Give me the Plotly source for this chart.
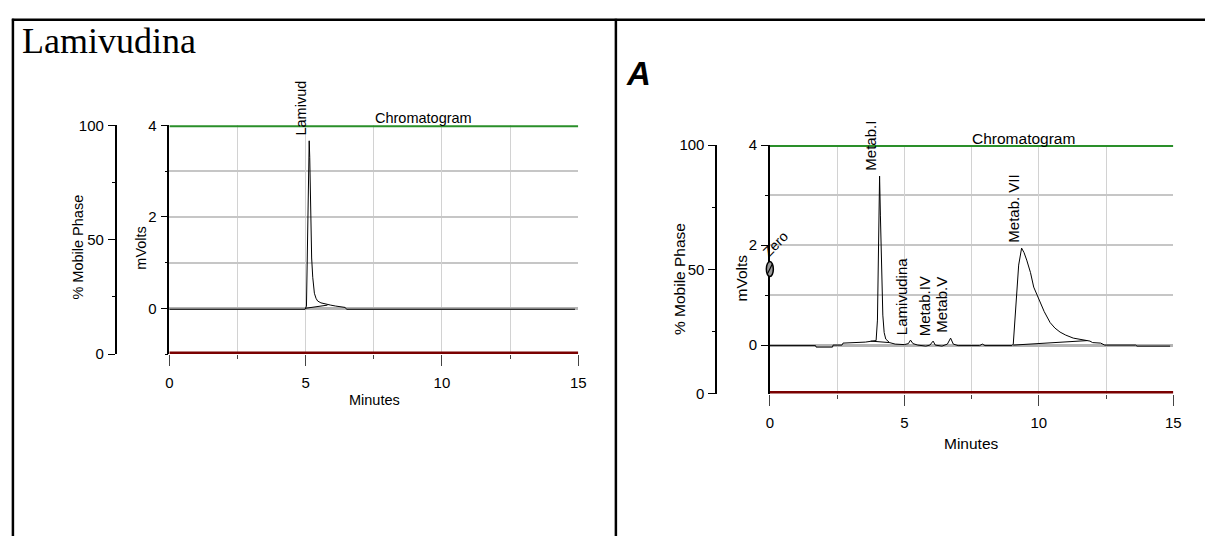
import plotly.graph_objects as go

W, H = 1213, 544

# ---------------- data ----------------
# Left panel: Lamivudina standard
left_time = [0, 4.98, 5.03, 5.06, 5.09, 5.11, 5.13, 5.15, 5.17, 5.19, 5.22, 5.26, 5.32,
             5.38, 5.44, 5.56, 5.68, 5.8, 5.92, 6.1, 6.3, 6.45, 6.5, 14.88]
left_mv = [-0.02, -0.02, 0.05, 1.0, 2.4, 3.3, 3.66, 3.3, 2.5, 1.74, 1.1, 0.68, 0.33,
           0.22, 0.16, 0.12, 0.10, 0.08, 0.07, 0.05, 0.03, 0.02, -0.02, -0.02]
left_base_time = [4.98, 5.8]
left_base_mv = [0.0, 0.07]
left_peak_names = ["Lamivud"]
left_peak_time = [5.13]
left_peak_mv = [3.66]

# Right panel: sample A
right_time = [0, 1.7, 1.72, 2.33, 2.35, 2.68, 2.72, 3.2, 3.55, 3.8, 3.95, 4.0, 4.04, 4.08,
              4.11, 4.15, 4.2, 4.25, 4.31, 4.45, 4.66, 5.0, 5.15, 5.23, 5.32, 5.5, 5.8,
              5.95, 6.07, 6.15, 6.4, 6.6, 6.72, 6.82, 7.0, 7.8, 7.9, 8.0, 9.0, 9.05,
              9.15, 9.25, 9.36, 9.45, 9.55, 9.69, 9.81, 9.93, 10.05, 10.2, 10.42, 10.6,
              10.79, 11.0, 11.28, 11.5, 11.77, 11.9, 12.0, 12.3, 12.45, 13.6, 13.65, 14.88]
right_mv = [-0.01, -0.01, -0.04, -0.04, 0.0, 0.0, 0.04, 0.05, 0.06, 0.08, 0.09, 0.5, 2.0, 3.38,
            2.6, 1.4, 0.6, 0.25, 0.12, 0.05, 0.02, 0.01, 0.03, 0.10, 0.03, 0.0, -0.02,
            0.0, 0.08, 0.0, -0.02, 0.02, 0.14, 0.02, -0.01, -0.01, 0.02, -0.01, -0.01, 0.02,
            0.8, 1.6, 1.94, 1.85, 1.7, 1.45, 1.16, 1.0, 0.84, 0.67, 0.45, 0.34,
            0.26, 0.20, 0.14, 0.12, 0.10, 0.08, 0.05, 0.04, 0.0, 0.0, -0.02, -0.02]
right_base1_time = [3.75, 4.45]
right_base1_mv = [0.08, 0.05]
right_base2_time = [9.05, 11.8]
right_base2_mv = [0.0, 0.09]
right_peak_names = ["Metab.I", "Lamivudina", "Metab.IV", "Metab.V", "Metab. VII"]
right_peak_time = [4.08, 5.23, 6.07, 6.72, 9.36]
right_peak_mv = [3.38, 0.10, 0.08, 0.14, 1.94]
zero_time = 0.0
zero_mv = 1.52

x_ticks = [0, 5, 10, 15]
mv_ticks = [0, 2, 4]
pct_ticks = [0, 50, 100]
mobile_high = 100
mobile_low = 0

# ---------------- layout geometry ----------------
def px(x):
    return x / W

def py(y):
    return 1 - y / H

L_xdom = [px(167), px(580)]
L_ydom = [py(356.25), py(120)]
R_xdom = [px(773.5), px(1181)]
R_ydom = [py(397), py(140.5)]
L_mv_range = [-1.0, 4]
R_mv_range = [-0.97, 4]

FONT = "Liberation Sans, Arial, sans-serif"
fig = go.Figure()

line_k = dict(color="black", width=1)
# left
fig.add_trace(go.Scatter(x=left_time, y=left_mv, mode="lines", line=line_k, xaxis="x", yaxis="y"))
fig.add_trace(go.Scatter(x=left_base_time, y=left_base_mv, mode="lines", line=line_k, xaxis="x", yaxis="y"))
fig.add_trace(go.Scatter(x=[0, 15], y=[mobile_high] * 2, mode="lines",
                         line=dict(color="#2a8f2a", width=4), xaxis="x", yaxis="y2"))
fig.add_trace(go.Scatter(x=[0, 15], y=[mobile_low] * 2, mode="lines",
                         line=dict(color="#7a0000", width=5), xaxis="x", yaxis="y2"))
# right
fig.add_trace(go.Scatter(x=right_time, y=right_mv, mode="lines", line=line_k, xaxis="x2", yaxis="y3"))
fig.add_trace(go.Scatter(x=right_base1_time, y=right_base1_mv, mode="lines", line=line_k, xaxis="x2", yaxis="y3"))
fig.add_trace(go.Scatter(x=right_base2_time, y=right_base2_mv, mode="lines", line=line_k, xaxis="x2", yaxis="y3"))
fig.add_trace(go.Scatter(x=[0, 15], y=[mobile_high] * 2, mode="lines",
                         line=dict(color="#2a8f2a", width=4), xaxis="x2", yaxis="y4"))
fig.add_trace(go.Scatter(x=[0, 15], y=[mobile_low] * 2, mode="lines",
                         line=dict(color="#7a0000", width=5), xaxis="x2", yaxis="y4"))

tickfont = dict(family=FONT, size=15, color="black")

def xaxis(dom, anchor):
    return dict(domain=dom, anchor=anchor, range=[0, 15], tickvals=x_ticks,
                ticks="outside", ticklen=11, tickcolor="#444", tickwidth=1.2,
                showgrid=True, gridcolor="#d2d2d2", gridwidth=1.3,
                minor=dict(dtick=2.5, tick0=0, ticks="outside", ticklen=4, tickcolor="#444",
                           showgrid=True, gridcolor="#d2d2d2", gridwidth=1.3),
                zeroline=False, showline=False, tickfont=tickfont, ticklabelstandoff=4)

def mvaxis(dom, anchor, rng):
    return dict(domain=dom, anchor=anchor, range=rng, tickvals=mv_ticks,
                ticks="outside", ticklen=7, tickcolor="black", tickwidth=1.3,
                showgrid=True, gridcolor="#c6c6c6", gridwidth=1.5,
                minor=dict(dtick=1, tick0=0, ticks="outside", ticklen=3, tickcolor="black",
                           showgrid=True, gridcolor="#c6c6c6", gridwidth=1.5),
                zeroline=True, zerolinecolor="#b4b4b4", zerolinewidth=2.5,
                showline=True, linecolor="black", linewidth=1.5, tickfont=tickfont,
                ticklabelstandoff=1)

def pctaxis(overlay, pos, dom):
    return dict(overlaying=overlay, anchor="free", position=pos, side="left", domain=dom,
                range=[0, 100], tickvals=pct_ticks, ticks="outside", ticklen=7,
                tickcolor="black", tickwidth=1.3,
                minor=dict(dtick=25, tick0=0, ticks="outside", ticklen=3, tickcolor="black"),
                showgrid=False, zeroline=False, showline=True, linecolor="black",
                linewidth=1.5, tickfont=tickfont, ticklabelstandoff=1)

fig.update_layout(
    width=W, height=H, autosize=False,
    margin=dict(l=0, r=0, t=0, b=0),
    paper_bgcolor="white", plot_bgcolor="white", showlegend=False,
    xaxis=xaxis(L_xdom, "y"),
    yaxis=mvaxis(L_ydom, "x", L_mv_range),
    yaxis2=pctaxis("y", px(112.7), L_ydom),
    xaxis2=xaxis(R_xdom, "y3"),
    yaxis3=mvaxis(R_ydom, "x2", R_mv_range),
    yaxis4=pctaxis("y3", px(719.3), R_ydom),
)

ann = []
def txt(x, y, s, size=15, angle=0, family=FONT, xref="paper", yref="paper",
        xanchor="center", yanchor="middle", **kw):
    d = dict(x=x, y=y, text=s, showarrow=False, textangle=angle, xref=xref, yref=yref,
             xanchor=xanchor, yanchor=yanchor,
             font=dict(family=family, size=size, color="black"))
    d.update(kw)
    ann.append(d)

# panel titles
txt(px(16), py(33), "Lamivudina", size=36, family="Liberation Serif, Times New Roman, serif",
    xanchor="left")
txt(px(626), py(67), "<b><i>A</i></b>", size=33, xanchor="left")

# axis titles
txt(px(75), py(246), "% Mobile Phase", size=14.5, angle=-90)
txt(px(138.7), py(246), "mVolts", size=14.5, angle=-90)
txt(px(373.7), py(404), "Minutes", size=14.5)
txt(px(682.5), py(279), "% Mobile Phase", size=15.5, angle=-90)
txt(px(745), py(277.5), "mVolts", size=15.5, angle=-90)
txt(px(977), py(448), "Minutes", size=15.5)

# Chromatogram captions
txt(px(423.7), py(119), "Chromatogram", size=14.5, yanchor="bottom", yshift=-4)
txt(px(1029.8), py(140), "Chromatogram", size=15.5, yanchor="bottom", yshift=-4)

# peak labels
for n, t, v in zip(left_peak_names, left_peak_time, left_peak_mv):
    txt(t, v, n, size=14.5, angle=-90, xref="x", yref="y", yanchor="bottom",
        xshift=-8, yshift=3)
for n, t, v in zip(right_peak_names, right_peak_time, right_peak_mv):
    txt(t, v, n, size=15, angle=-90, xref="x2", yref="y3", yanchor="bottom",
        xshift=-9, yshift=3)

# Zero marker label
txt(zero_time, zero_mv, "Zero", size=14, angle=-45, xref="x2", yref="y3",
    xshift=5.5, yshift=25)

fig.update_layout(annotations=ann)

# Zero marker (ellipse with slash), placed via the right axes' domain
zfrac = (zero_mv - R_mv_range[0]) / (R_mv_range[1] - R_mv_range[0])
shapes = [
    dict(type="circle", xref="x2 domain", yref="y3 domain", xsizemode="pixel", ysizemode="pixel",
         xanchor=0, yanchor=zfrac, x0=-3.5, x1=3.5, y0=-7.5, y1=7.5,
         fillcolor="#9a9a9a", line=dict(color="black", width=1.5), layer="above"),
    dict(type="line", xref="x2 domain", yref="y3 domain", xsizemode="pixel", ysizemode="pixel",
         xanchor=0, yanchor=zfrac, x0=-2.5, x1=2.5, y0=-5, y1=5,
         line=dict(color="black", width=1.2), layer="above"),
    # table borders
    dict(type="line", xref="paper", yref="paper", x0=px(8), x1=1, y0=py(11), y1=py(11),
         line=dict(color="black", width=2.5)),
    dict(type="line", xref="paper", yref="paper", x0=px(9), x1=px(9), y0=0, y1=py(10),
         line=dict(color="black", width=2.5)),
    dict(type="line", xref="paper", yref="paper", x0=px(618), x1=px(618), y0=0, y1=py(10),
         line=dict(color="black", width=2.5)),
]
fig.update_layout(shapes=shapes)

post = "document.body.style.margin='0';document.body.style.padding='0';"
fig.write_html("out.html", default_width="1213px", default_height="544px",
               config={"displayModeBar": False}, post_script=post)
